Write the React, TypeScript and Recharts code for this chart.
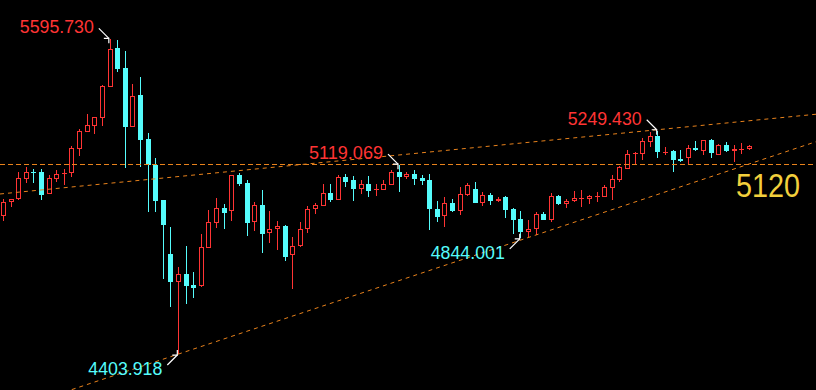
import React from "react";
import {
  ComposedChart,
  Bar,
  XAxis,
  YAxis,
  ReferenceLine,
  ReferenceDot,
} from "recharts";

// daily candles
const opens = [
  4928, 4981, 4990, 5068, 5092, 5092, 5011, 5068, 5087, 5088,
  5179, 5246, 5269, 5299, 5416, 5562, 5486, 5265, 5385, 5218,
  5121, 4987, 4783, 4677, 4706, 4665, 4660, 4807, 4901, 4957,
  4947, 5081, 5052, 4903, 4967, 4861, 4876, 4888, 4778, 4812,
  4876, 4952, 4966, 5014, 4988, 5074, 5062, 5030, 5048, 5025,
  5026, 5045, 5093, 5075, 5086, 5070, 5063, 4953, 4927, 4976,
  4946, 5006, 5029, 4976, 5006, 4983, 4999, 4953, 4915, 4866,
  4877, 4934, 4912, 5002, 4972, 4983, 4994, 4991, 4999, 4999,
  5034, 5063, 5106, 5161, 5163, 5208, 5228, 5168, 5174, 5141,
  5145, 5183, 5174, 5213, 5159, 5194, 5172, 5178, 5179,
];
const highs = [
  4990, 4992, 5092, 5112, 5104, 5104, 5082, 5100, 5104, 5192,
  5255, 5313, 5302, 5422, 5595.73, 5592, 5551, 5426, 5453, 5241,
  5146, 4989, 4885, 4734, 4813, 4715, 4858, 4949, 4995, 4972,
  5082, 5088, 5063, 4980, 5025, 4945, 4908, 4891, 4847, 4904,
  4963, 4976, 5048, 5048, 5082, 5086, 5078, 5063, 5078, 5048,
  5063, 5101, 5119.069, 5093, 5101, 5082, 5086, 4983, 4999, 4991,
  5036, 5052, 5055, 5018, 5014, 4999, 5002, 4957, 4946, 4912,
  4942, 4942, 5014, 5006, 4991, 5021, 5025, 5006, 5018, 5044,
  5082, 5116, 5175, 5168, 5221, 5244, 5249.43, 5189, 5175, 5175,
  5194, 5210, 5214, 5217, 5198, 5206, 5194, 5202, 5194,
];
const lows = [
  4909, 4960, 4988, 5052, 5052, 4988, 5009, 5056, 5045, 5074,
  5155, 5244, 5238, 5269, 5414, 5473, 5107, 5263, 5113, 4943,
  4943, 4687, 4583, 4403.918, 4593, 4617, 4658, 4805, 4882, 4878,
  4909, 5041, 4852, 4871, 4788, 4825, 4799, 4757, 4651, 4810,
  4863, 4934, 4964, 4980, 4986, 5038, 4985, 5011, 5000, 5002,
  5024, 5043, 5019, 5066, 5045, 5044, 4874, 4904, 4885, 4943,
  4930, 5004, 4974, 4965, 4968, 4981, 4919, 4858, 4844.001, 4847,
  4855, 4910, 4904, 4970, 4957, 4981, 4961, 4972, 4980, 4997,
  4987, 5054, 5104, 5122, 5138, 5189, 5145, 5156, 5094, 5130,
  5122, 5174, 5156, 5145, 5157, 5168, 5130, 5160, 5177,
];
const closes = [
  4978, 4990, 5069, 5092, 5088, 5007, 5069, 5085, 5088, 5183,
  5247, 5270, 5300, 5418, 5558, 5483, 5265, 5380, 5216, 5121,
  4983, 4893, 4677, 4706, 4662, 4655, 4808, 4903, 4956, 4939,
  5081, 5049, 4901, 4967, 4860, 4876, 4888, 4773, 4812, 4876,
  4953, 4967, 5014, 4987, 5074, 5055, 5029, 5048, 5021, 5029,
  5048, 5093, 5075, 5086, 5067, 5059, 4954, 4924, 4976, 4946,
  5010, 5044, 4976, 5006, 4983, 4991, 4949, 4912, 4866, 4877,
  4934, 4912, 5002, 4972, 4983, 4995, 4995, 5002, 5002, 5036,
  5067, 5112, 5160, 5164, 5210, 5228, 5168, 5170, 5138, 5134,
  5183, 5175, 5213, 5164, 5194, 5172, 5179, 5179, 5191,
];

// marked extremes
const peaks = [
  { i: 14, price: 5595.73, text: "5595.730" },
  { i: 52, price: 5119.069, text: "5119.069" },
  { i: 86, price: 5249.43, text: "5249.430" },
];
const troughs = [
  { i: 23, price: 4403.918, text: "4403.918" },
  { i: 68, price: 4844.001, text: "4844.001" },
];
const level = 5120;

const X_MIN = -0.434;
const X_MAX = 106.8;
const Y_MIN = 4267.7;
const Y_MAX = 5744.6;

const upperTrend = [
  { x: X_MIN, y: 5010 },
  { x: X_MAX, y: 5312 },
];
const lowerTrend = [
  { x: 7, y: 4250 },
  { x: X_MAX, y: 5208 },
];

const RED = "#ff3434";
const CYAN = "#55fcfc";
const ORANGE = "#e8821c";
const FONT = "'Liberation Sans', Arial, sans-serif";

const data = opens.map((o, i) => ({
  i,
  open: o,
  high: highs[i],
  low: lows[i],
  close: closes[i],
}));

function Candle(props: any) {
  const { x, y, width, height, payload } = props;
  if (!payload) return null;
  const { open, close, high, low } = payload;
  const cx = Math.round(x + width / 2);
  const k = height / (high - low);
  const top = Math.round(y + (high - Math.max(open, close)) * k);
  const bot = Math.round(y + (high - Math.min(open, close)) * k);
  const up = close >= open;
  const color = up ? RED : CYAN;
  const wick = (
    <line
      x1={cx + 0.5}
      x2={cx + 0.5}
      y1={Math.round(y)}
      y2={Math.round(y + height)}
      stroke={color}
      strokeWidth={1}
    />
  );
  if (bot - top < 2) {
    return (
      <g>
        {wick}
        <rect x={cx - 2} y={top} width={5} height={Math.max(1, bot - top)} fill={color} />
      </g>
    );
  }
  if (up) {
    return (
      <g>
        {wick}
        <rect
          x={cx - 1.5}
          y={top + 0.5}
          width={4}
          height={bot - top - 1}
          fill="#000"
          stroke={color}
          strokeWidth={1}
        />
      </g>
    );
  }
  return (
    <g>
      {wick}
      <rect x={cx - 2} y={top} width={5} height={bot - top} fill={color} />
    </g>
  );
}

function Mark({ cx, cy, text, high }: { cx: number; cy: number; text: string; high: boolean }) {
  const d = high ? -1 : 1;
  const tx = cx - 1;
  const ty = cy + d;
  return (
    <g>
      <line x1={cx - 11} y1={cy + 11 * d} x2={tx} y2={ty} stroke="#fff" strokeWidth={1.2} />
      <path
        d={`M${tx - 5},${ty} L${tx},${ty} L${tx},${ty - 5 * d}`}
        stroke="#fff"
        strokeWidth={1.2}
        fill="none"
      />
      <text
        x={cx - 16}
        y={high ? cy - 6 : cy + 21}
        textAnchor="end"
        fill={high ? RED : CYAN}
        fontSize={18}
        fontFamily={FONT}
        textLength={74}
        lengthAdjust="spacingAndGlyphs"
      >
        {text}
      </text>
    </g>
  );
}

export default function App() {
  return (
    <div style={{ position: "absolute", left: 0, top: 0, width: 816, height: 390, background: "#000" }}>
      <ComposedChart width={816} height={390} data={data} margin={{ top: 0, right: 0, bottom: 0, left: 0 }}>
        <XAxis dataKey="i" type="number" domain={[X_MIN, X_MAX]} allowDataOverflow hide />
        <YAxis type="number" domain={[Y_MIN, Y_MAX]} allowDataOverflow hide />
        <Bar
          dataKey={(d: any) => [d.low, d.high]}
          barSize={5}
          shape={(p: any) => <Candle {...p} />}
          isAnimationActive={false}
        />
        <ReferenceLine
          y={level}
          stroke={ORANGE}
          strokeDasharray="5 3"
          shapeRendering="crispEdges"
          ifOverflow="visible"
        />
        <ReferenceLine segment={upperTrend} stroke={ORANGE} strokeDasharray="4 4" ifOverflow="visible" />
        <ReferenceLine segment={lowerTrend} stroke={ORANGE} strokeDasharray="4 4" ifOverflow="visible" />
        {peaks.map((p) => (
          <ReferenceDot
            key={p.text}
            x={p.i}
            y={p.price}
            r={0}
            ifOverflow="visible"
            shape={(s: any) => <Mark cx={s.cx} cy={s.cy} text={p.text} high />}
          />
        ))}
        {troughs.map((p) => (
          <ReferenceDot
            key={p.text}
            x={p.i}
            y={p.price}
            r={0}
            ifOverflow="visible"
            shape={(s: any) => <Mark cx={s.cx} cy={s.cy} text={p.text} high={false} />}
          />
        ))}
        <ReferenceDot
          x={X_MAX}
          y={level}
          r={0}
          ifOverflow="visible"
          shape={(s: any) => (
            <text
              x={s.cx - 16}
              y={s.cy + 32}
              textAnchor="end"
              fill="#f2cf3c"
              fontSize={33}
              fontFamily={FONT}
              textLength={64}
              lengthAdjust="spacingAndGlyphs"
            >
              {String(level)}
            </text>
          )}
        />
      </ComposedChart>
    </div>
  );
}
